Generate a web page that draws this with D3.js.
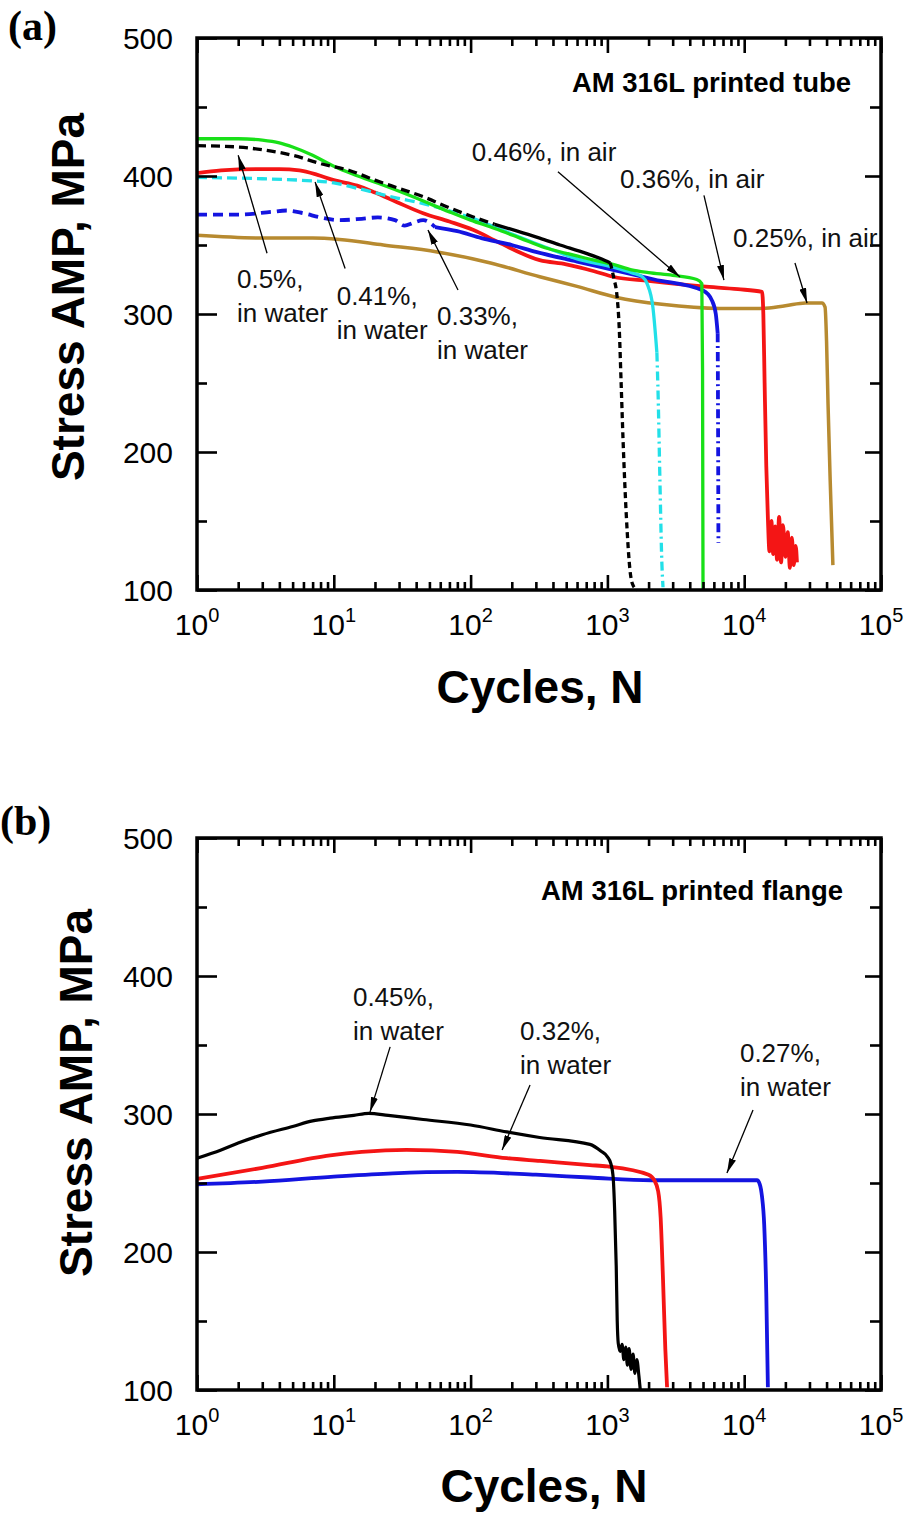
<!DOCTYPE html>
<html>
<head>
<meta charset="utf-8">
<script src="https://cdnjs.cloudflare.com/ajax/libs/d3/7.8.5/d3.min.js"></script>
<style>
  body { margin: 0; background: #fff; }
  svg { font-family: "Liberation Sans", Arial, sans-serif; }
</style>
</head>
<body>
<svg id="fig" width="910" height="1513"></svg>
<script>
// ---- axis values ----
const cycleTicks = [1, 10, 100, 1000, 10000, 100000];
const stressTicks = [100, 200, 300, 400, 500];
const stressMinor = [150, 250, 350, 450];

// ---- (a) printed tube: [cycles, stress amplitude MPa] ----
const blackTube = [[1,422],[2,421],[3,419],[5,415],[8,409],[13,404],[20,397],[30,391],[45,385],[70,377],[100,371],[150,365],[220,360],[320,355],[450,350],[650,345],[900,340],[1050,337],[1120,325],[1170,315],[1220,290],[1260,250],[1300,210],[1350,170],[1400,140],[1460,115],[1530,104],[1650,100]];
const greenTube = [[1,427],[2,427],[3,426],[4,424],[5,421],[7,415],[10,407],[15,400],[25,392],[40,384],[70,374],[100,368],[150,362],[230,355],[350,348],[500,344],[800,339],[1100,336],[1500,332],[2000,330],[3000,328],[4500,325],[4900,322],[4960,260],[5000,100]];
const redTube = [[1,402],[1.5,404],[2.7,405],[4,405],[5.6,404],[7.5,401],[10,397],[14.8,393],[20,388],[29,381],[45,373],[70,367],[104,361],[160,352],[320,339],[500,336],[800,331],[1100,327],[2000,324],[5000,320],[9000,318],[13500,316],[13800,300],[14100,250],[14500,190],[14900,152],[15300,128],[15800,150],[16300,126],[16800,146],[17400,122],[18000,153],[18600,120],[19200,147],[20000,124],[20800,142],[21600,116],[22300,138],[23000,118],[23800,132],[24300,120]];
const cyanTube = [[1,399],[3,398],[5.6,397],[10,395],[15,391],[29,384],[45,380],[100,370],[200,358],[320,350],[600,340],[1100,334],[1500,330],[1800,327],[1950,322],[2150,305],[2300,272],[2350,240],[2420,180],[2500,120],[2550,102]];
const blueTube = [[1,372],[2,372],[3.5,374],[4.5,375],[6,373],[8,370],[11,368],[16,369],[21,370],[28,368],[33,364],[38,366],[45,368],[55,363],[80,360],[120,355],[200,350],[300,345],[600,338],[1100,332],[2200,325],[5000,317],[5800,310],[6200,300],[6400,286],[6430,240],[6460,180],[6480,134]];
const brownTube = [[1,357],[3,355],[7,355],[11,354],[23,350],[57,345],[140,337],[320,327],[600,320],[1170,312],[2500,307],[6600,304],[13000,304],[20000,306],[28000,308],[37000,308],[39000,305],[40000,280],[41000,235],[42500,180],[44500,118]];

// ---- (b) printed flange ----
const blackFlange = [[1,268],[1.5,274],[2,279],[3,285],[5,291],[7,295],[9.4,297],[14,299],[18,300.5],[25,299],[45,296],[100,292],[184,287],[320,283],[745,278],[900,273],[1000,269],[1060,264],[1100,255],[1130,230],[1160,190],[1180,150],[1200,134],[1240,128],[1280,133],[1320,122],[1360,131],[1400,118],[1440,130],[1490,115],[1540,126],[1590,112],[1640,122],[1700,110],[1740,100]];
const redFlange = [[1,253],[3,261],[9.4,270],[16,272.5],[34,274],[80,272.5],[184,268],[322,266],[745,263],[1000,262],[2000,256],[2200,252],[2350,244],[2450,225],[2550,180],[2650,130],[2730,102]];
const blueFlange = [[1,249],[3,251],[10,254.6],[27,257],[80,258],[300,256],[745,254],[2100,252],[5000,252],[12400,252],[13000,249],[13500,240],[14000,220],[14500,170],[14900,102]];

const svg = d3.select("#fig");
const left = 197, right = 881;

svg.append("defs").append("marker")
    .attr("id", "arrow")
    .attr("viewBox", "0 0 15 7")
    .attr("refX", 15).attr("refY", 3.5)
    .attr("markerWidth", 15).attr("markerHeight", 7)
    .attr("markerUnits", "userSpaceOnUse")
    .attr("orient", "auto")
    .append("path").attr("d", "M0,0L15,3.5L0,7Z").attr("fill", "#000");

const panels = [
  {
    label: "(a)", labelAt: [8, 40], top: 38, bottom: 590,
    yTitleAt: [84, 297], xTitleAt: [540, 703],
    title: "AM 316L printed tube", titleAt: [60400, 461],
    series: [
      { data: brownTube, color: "#b78a30", width: 3.5, segs: [[Infinity, null]] },
      { data: redTube, color: "#f41515", width: 3.8, segs: [[Infinity, null]] },
      { data: blueTube, color: "#1414e0", width: 3.8, segs: [[55, "10,6"], [6400, null], [Infinity, "9,4,2,4"]] },
      { data: cyanTube, color: "#22e0e8", width: 3.3, segs: [[100, "10,5"], [2300, null], [Infinity, "9,4,2,4"]] },
      { data: greenTube, color: "#18e018", width: 3.3, segs: [[Infinity, null]] },
      { data: blackTube, color: "#000", width: 3.3, segs: [[150, "9,5"], [1050, null], [Infinity, "6,4"]] }
    ],
    notes: [
      { lines: ["0.46%, in air"], at: [102, 411], tail: [435, 403], tip: [3396, 326.8] },
      { lines: ["0.36%, in air"], at: [1236, 391], tail: [5080, 386], tip: [7110, 324.6] },
      { lines: ["0.25%, in air"], at: [8280, 348.6], tail: [23500, 337], tip: [28800, 308] },
      { lines: ["0.5%,", "in water"], at: [1.96, 318.8], tail: [3.25, 344], tip: [2.0, 415] },
      { lines: ["0.41%,", "in water"], at: [10.5, 306.5], tail: [12.1, 333], tip: [7.3, 395.6] },
      { lines: ["0.33%,", "in water"], at: [56.8, 292], tail: [80.9, 317.4], tip: [48.8, 360.9] }
    ]
  },
  {
    label: "(b)", labelAt: [0, 835], top: 838, bottom: 1390,
    yTitleAt: [92, 1093], xTitleAt: [544, 1502],
    title: "AM 316L printed flange", titleAt: [52800, 455],
    series: [
      { data: blueFlange, color: "#1414e0", width: 3.8, segs: [[Infinity, null]] },
      { data: redFlange, color: "#f41515", width: 3.8, segs: [[Infinity, null]] },
      { data: blackFlange, color: "#000", width: 3.2, segs: [[Infinity, null]] }
    ],
    notes: [
      { lines: ["0.45%,", "in water"], at: [13.8, 378.3], tail: [25.8, 348.6], tip: [18.4, 301.4] },
      { lines: ["0.32%,", "in water"], at: [230, 353.6], tail: [272, 321], tip: [170, 273.9] },
      { lines: ["0.27%,", "in water"], at: [9310, 337.7], tail: [11600, 302.9], tip: [7480, 257.2] }
    ]
  }
];

const minorCycles = [];
[1, 10, 100, 1000, 10000].forEach(d => { for (let k = 2; k <= 9; k++) minorCycles.push(k * d); });

function tickAxis(g, axis, values, size) {
  g.call(axis.tickValues(values).tickSize(-size).tickSizeOuter(0).tickFormat(""))
   .call(a => a.select(".domain").remove())
   .call(a => a.selectAll("line").attr("stroke", "#000").attr("stroke-width", 2.6));
}

panels.forEach(p => {
  const x = d3.scaleLog().domain([1, 1e5]).range([left, right]);
  const y = d3.scaleLinear().domain([100, 500]).range([p.bottom, p.top]);
  const g = svg.append("g");

  // data lines
  const line = d3.line().x(d => x(d[0])).y(d => y(d[1])).curve(d3.curveMonotoneX);
  p.series.forEach(s => {
    let from = 0;
    s.segs.forEach(([to, dash]) => {
      const pts = s.data.filter(d => d[0] >= from && d[0] <= to);
      g.append("path")
        .attr("d", line(pts))
        .attr("fill", "none")
        .attr("stroke", s.color)
        .attr("stroke-width", s.width)
        .attr("stroke-linejoin", "round")
        .attr("stroke-dasharray", dash);
      from = to;
    });
  });

  // ticks on all four sides, pointing inward
  tickAxis(g.append("g").attr("transform", `translate(0,${p.bottom})`), d3.axisBottom(x), cycleTicks, 15);
  tickAxis(g.append("g").attr("transform", `translate(0,${p.bottom})`), d3.axisBottom(x), minorCycles, 8);
  tickAxis(g.append("g").attr("transform", `translate(0,${p.top})`), d3.axisTop(x), cycleTicks, 15);
  tickAxis(g.append("g").attr("transform", `translate(0,${p.top})`), d3.axisTop(x), minorCycles, 8);
  tickAxis(g.append("g").attr("transform", `translate(${left},0)`), d3.axisLeft(y), stressTicks, 20);
  tickAxis(g.append("g").attr("transform", `translate(${left},0)`), d3.axisLeft(y), stressMinor, 10);
  tickAxis(g.append("g").attr("transform", `translate(${right},0)`), d3.axisRight(y), stressTicks, 16);
  tickAxis(g.append("g").attr("transform", `translate(${right},0)`), d3.axisRight(y), stressMinor, 11);

  g.append("rect")
    .attr("x", left).attr("y", p.top)
    .attr("width", right - left).attr("height", p.bottom - p.top)
    .attr("fill", "none").attr("stroke", "#000").attr("stroke-width", 3.5);

  // tick labels
  g.selectAll(".ylab").data(stressTicks).join("text")
    .attr("x", left - 24).attr("y", d => y(d)).attr("dy", "0.35em")
    .attr("text-anchor", "end").attr("font-size", 30).text(d => d);

  g.selectAll(".xlab").data(cycleTicks).join("text")
    .attr("x", d => x(d)).attr("y", p.bottom + 45)
    .attr("text-anchor", "middle").attr("font-size", 30)
    .each(function (d) {
      const t = d3.select(this);
      t.append("tspan").text("10");
      t.append("tspan").attr("dy", -13).attr("font-size", 20).text(Math.round(Math.log10(d)));
    });

  // axis titles
  g.append("text")
    .attr("transform", `translate(${p.yTitleAt[0]},${p.yTitleAt[1]}) rotate(-90)`)
    .attr("text-anchor", "middle").attr("font-size", 46).attr("font-weight", "bold")
    .text("Stress AMP, MPa");
  g.append("text")
    .attr("x", p.xTitleAt[0]).attr("y", p.xTitleAt[1])
    .attr("text-anchor", "middle").attr("font-size", 46).attr("font-weight", "bold")
    .text("Cycles, N");

  g.append("text")
    .attr("x", p.labelAt[0]).attr("y", p.labelAt[1])
    .style("font-family", "'Liberation Serif', 'Times New Roman', serif")
    .attr("font-size", 42).attr("font-weight", "bold")
    .text(p.label);

  g.append("text")
    .attr("x", x(p.titleAt[0])).attr("y", y(p.titleAt[1]))
    .attr("text-anchor", "end").attr("font-size", 27.5).attr("font-weight", "bold")
    .text(p.title);

  // annotations
  p.notes.forEach(n => {
    const t = g.append("text")
      .attr("x", x(n.at[0])).attr("y", y(n.at[1]))
      .attr("font-size", 26).attr("fill", "#111");
    n.lines.forEach((s, i) => {
      t.append("tspan").attr("x", x(n.at[0])).attr("dy", i ? 34 : 0).text(s);
    });
    g.append("line")
      .attr("x1", x(n.tail[0])).attr("y1", y(n.tail[1]))
      .attr("x2", x(n.tip[0])).attr("y2", y(n.tip[1]))
      .attr("stroke", "#000").attr("stroke-width", 1.3)
      .attr("marker-end", "url(#arrow)");
  });
});
</script>
</body>
</html>
